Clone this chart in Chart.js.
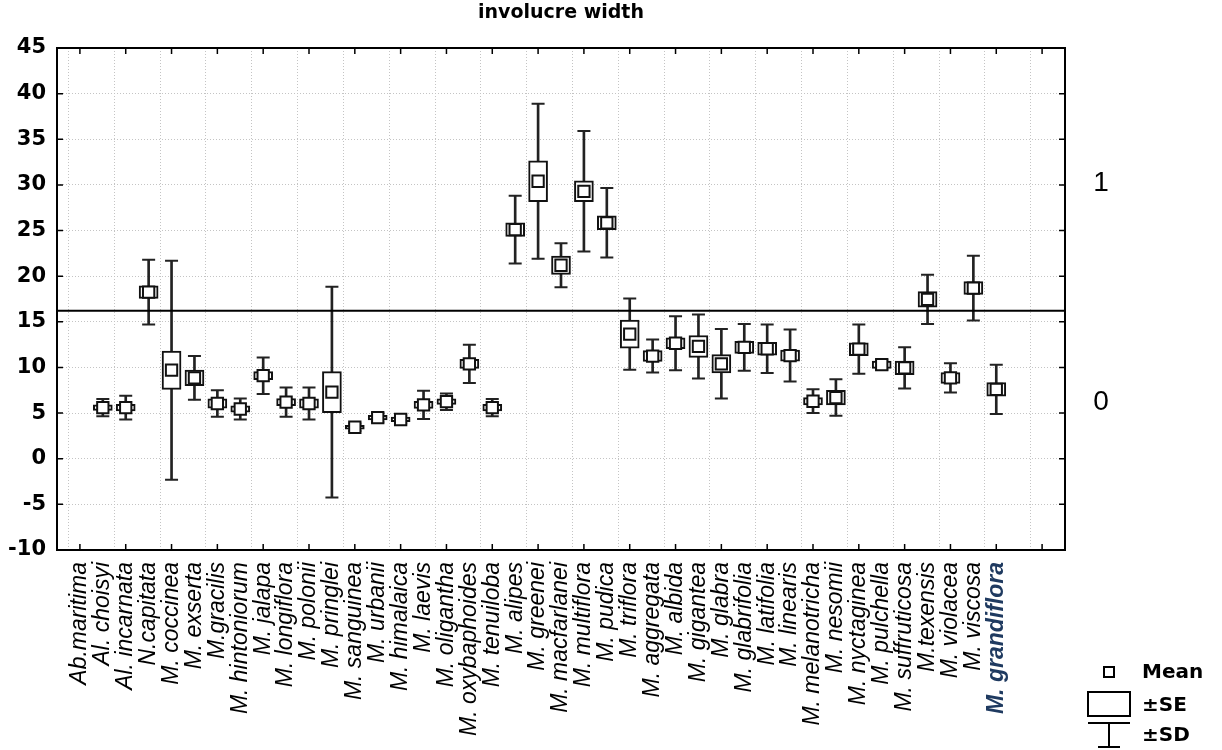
<!DOCTYPE html>
<html>
<head>
<meta charset="utf-8">
<script src="https://cdn.jsdelivr.net/npm/chart.js@4.4.0/dist/chart.umd.min.js"></script>
<style>
  html, body { margin: 0; padding: 0; background: #fff; }
</style>
</head>
<body>
<canvas id="myChart" width="1222" height="750"></canvas>
<script>
const species = ['Ab.maritima', 'Al. choisyi', 'Al. incarnata', 'N.capitata', 'M. coccinea', 'M. exserta',
    'M.gracilis', 'M. hintoniorum', 'M. jalapa', 'M. longiflora', 'M. polonii', 'M. pringlei', 'M. sanguinea',
    'M. urbanii', 'M. himalaica', 'M. laevis', 'M. oligantha', 'M. oxybaphoides', 'M. tenuiloba', 'M. alipes',
    'M. greenei', 'M. macfarlanei', 'M. multiflora', 'M. pudica', 'M. triflora', 'M. aggregata', 'M. albida',
    'M. gigantea', 'M. glabra', 'M. glabrifolia', 'M. latifolia', 'M. linearis', 'M. melanotricha', 'M. nesomii',
    'M. nyctaginea', 'M. pulchella', 'M. suffruticosa', 'M.texensis', 'M. violacea', 'M. viscosa', 'M. grandiflora'];
const means = [null, 5.6, 5.6, 18.25, 9.7, 8.85, 6.05, 5.45, 9.1, 6.2, 6.05, 7.3, 3.45, 4.5, 4.3, 5.9, 6.25, 10.4,
    5.6, 25.1, 30.4, 21.2, 29.3, 25.85, 13.65, 11.25, 12.65, 12.3, 10.4, 12.2, 12.05, 11.3, 6.3, 6.7, 12.0, 10.3,
    9.95, 17.45, 8.85, 18.7, 7.6];
const se = [null, 0.3, 0.35, 0.7, 2.1, 0.85, 0.5, 0.35, 0.45, 0.4, 0.5, 2.25, 0.2, 0.25, 0.25, 0.4, 0.3, 0.5,
    0.35, 0.75, 2.25, 1.0, 1.15, 0.75, 1.55, 0.6, 0.6, 1.2, 1.0, 0.65, 0.7, 0.6, 0.4, 0.8, 0.7, 0.4,
    0.75, 0.85, 0.6, 0.7, 0.75];
const sd = [null, 0.95, 1.3, 3.55, 12.0, 2.4, 1.45, 1.15, 2.0, 1.6, 1.75, 11.55, 0.4, 0.5, 0.45, 1.55, 0.9, 2.1,
    0.95, 3.7, 8.5, 2.4, 6.6, 3.8, 3.9, 1.8, 2.95, 3.5, 3.8, 2.55, 2.65, 2.85, 1.3, 2.0, 2.7, 0.55,
    2.25, 2.7, 1.6, 3.55, 2.7];
const cutoff = 16.2;
const groupLabels = ['1', '0'];
const legendLabels = ['Mean', '\u00b1SE', '\u00b1SD'];

// one empty slot on the left, three on the right
const labels = [''].concat(species, ['', '', '']);
const pad = arr => [null].concat(arr, [null, null, null]);

const seBars = pad(means.map((m, i) => m === null ? null : [m - se[i], m + se[i]]));
const sdBars = pad(means.map((m, i) => m === null ? null : [m - sd[i], m + sd[i]]));
const sdHigh = pad(means.map((m, i) => m === null ? null : m + sd[i]));
const sdLow = pad(means.map((m, i) => m === null ? null : m - sd[i]));
const meanPts = pad(means);

const frame = {
    id: 'frame',
    afterDraw(chart) {
        const {ctx, chartArea: a, scales: {x, y}} = chart;
        ctx.save();
        ctx.strokeStyle = '#000';
        ctx.lineWidth = 2;
        ctx.strokeRect(a.left, a.top, a.right - a.left, a.bottom - a.top);

        // inside tick marks
        ctx.lineWidth = 1.5;
        ctx.beginPath();
        x.ticks.forEach((t, i) => {
            if (i % 2 !== 1) return;
            const px = x.getPixelForTick(i);
            ctx.moveTo(px, a.top); ctx.lineTo(px, a.top + 6);
            ctx.moveTo(px, a.bottom); ctx.lineTo(px, a.bottom - 6);
        });
        y.ticks.forEach((t, i) => {
            const py = y.getPixelForTick(i);
            ctx.moveTo(a.left, py); ctx.lineTo(a.left + 6, py);
            ctx.moveTo(a.right, py); ctx.lineTo(a.right - 6, py);
        });
        ctx.stroke();

        // group numbers on the right
        ctx.fillStyle = '#000';
        ctx.font = '28px "Liberation Sans", Arial, sans-serif';
        ctx.textAlign = 'center';
        ctx.textBaseline = 'middle';
        ctx.fillText(groupLabels[0], a.right + 36, 183);
        ctx.fillText(groupLabels[1], a.right + 36, 402);

        // legend
        ctx.lineWidth = 2;
        ctx.strokeRect(1104, 667, 10, 10);
        ctx.strokeRect(1088, 692, 42, 24);
        ctx.beginPath();
        ctx.moveTo(1088, 723); ctx.lineTo(1130, 723);
        ctx.moveTo(1109, 723); ctx.lineTo(1109, 747);
        ctx.moveTo(1098, 747); ctx.lineTo(1120, 747);
        ctx.stroke();
        ctx.font = 'bold 20px "DejaVu Sans", sans-serif';
        ctx.textAlign = 'left';
        ctx.fillText(legendLabels[0], 1142, 673);
        ctx.fillText(legendLabels[1], 1142, 706);
        ctx.fillText(legendLabels[2], 1142, 736);
        ctx.restore();
    }
};

const ctx = document.getElementById('myChart').getContext('2d');
const myChart = new Chart(ctx, {
    type: 'bar',
    data: {
        labels: labels,
        datasets: [
            {
                type: 'line',
                data: labels.map(() => cutoff),
                borderColor: '#000',
                borderWidth: 2,
                pointRadius: 0,
                order: 1
            },
            {
                type: 'line',
                data: meanPts,
                showLine: false,
                pointStyle: 'rect',
                pointRadius: 8,
                pointBackgroundColor: '#fff',
                pointBorderColor: '#111',
                pointBorderWidth: 2,
                order: 2
            },
            {
                data: seBars,
                backgroundColor: '#fff',
                borderColor: '#111',
                borderWidth: 2,
                borderSkipped: false,
                barThickness: 19,
                grouped: false,
                order: 3
            },
            {
                type: 'line',
                data: sdHigh,
                showLine: false,
                pointStyle: 'line',
                pointRadius: 6.5,
                pointBorderColor: '#222',
                pointBorderWidth: 2,
                order: 4
            },
            {
                type: 'line',
                data: sdLow,
                showLine: false,
                pointStyle: 'line',
                pointRadius: 6.5,
                pointBorderColor: '#222',
                pointBorderWidth: 2,
                order: 4
            },
            {
                data: sdBars,
                backgroundColor: '#222',
                borderWidth: 0,
                barThickness: 2,
                grouped: false,
                order: 5
            }
        ]
    },
    options: {
        responsive: false,
        animation: false,
        events: [],
        layout: { padding: { right: 157 } },
        plugins: {
            legend: { display: false },
            tooltip: { enabled: false },
            title: {
                display: true,
                text: 'involucre width',
                fullSize: false,
                color: '#000',
                font: { family: '"DejaVu Sans", sans-serif', size: 19, weight: 'bold' },
                padding: { top: 2, bottom: 23.2 }
            }
        },
        scales: {
            x: {
                type: 'category',
                offset: false,
                grid: {
                    color: c => c.index % 2 === 1 ? '#c4c4c4' : 'rgba(0,0,0,0)',
                    lineWidth: 1,
                    drawTicks: false
                },
                border: { display: false, dash: [1, 2] },
                ticks: {
                    autoSkip: false,
                    minRotation: 90,
                    maxRotation: 90,
                    padding: 12,
                    color: c => c.index === 41 ? '#1f3a60' : '#000',
                    font: c => ({
                        family: '"Liberation Sans", Arial, sans-serif',
                        size: 23,
                        style: 'italic',
                        weight: c.index === 41 ? 'bold' : 'normal'
                    })
                },
                afterFit: s => { s.height = 200; }
            },
            y: {
                min: -10,
                max: 45,
                grid: { color: '#c4c4c4', lineWidth: 1, drawTicks: false },
                border: { display: false, dash: [1, 2] },
                ticks: {
                    stepSize: 5,
                    padding: 11,
                    color: '#000',
                    font: { family: '"DejaVu Sans", sans-serif', size: 21, weight: 'bold' }
                },
                afterFit: s => { s.width = 57; }
            }
        }
    },
    plugins: [frame]
});
</script>
</body>
</html>
